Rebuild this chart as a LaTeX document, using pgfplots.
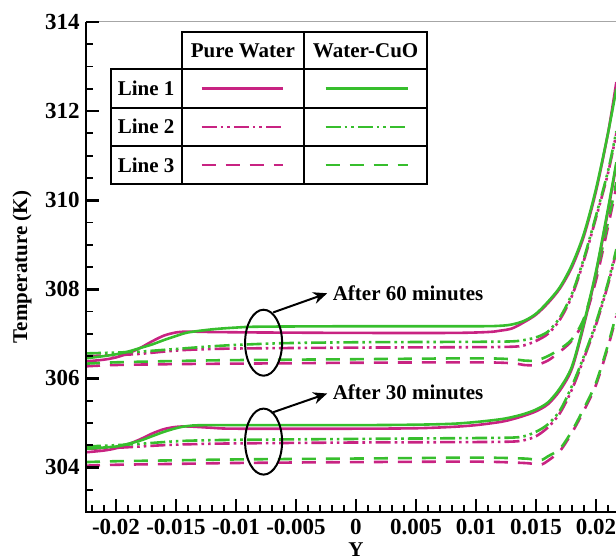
\documentclass[border=0pt]{standalone}
\usepackage{fontspec}
\setmainfont{Liberation Serif}
\usepackage{pgfplots}
\pgfplotsset{compat=1.18}
\usetikzlibrary{arrows.meta}
\definecolor{mag}{RGB}{200,35,130}
\definecolor{grn}{RGB}{55,190,45}
\tikzset{
  l1/.style={line width=1.3pt},
  l2/.style={line width=1.3pt, dash pattern=on 7.5pt off 2pt on 1.3pt off 2pt on 1.3pt off 2pt},
  l3/.style={line width=1.3pt, dash pattern=on 7pt off 5pt},
}
\newcommand{\lbl}{\fontsize{10.5}{12}\selectfont\bfseries}
\newcommand{\tl}{\fontsize{11.5}{13}\selectfont\bfseries}
\begin{document}
\begin{tikzpicture}
\begin{axis}[
  width=265pt, height=245pt, scale only axis,
  xmin=-0.0225, xmax=0.02167, ymin=303, ymax=314,
  axis line style={draw=none},
  tick style={draw=none},
  xtick={-0.02,-0.015,-0.01,-0.005,0,0.005,0.01,0.015,0.02},
  xticklabels={{\tl -0.02},{\tl -0.015},{\tl -0.01},{\tl -0.005},{\tl 0},{\tl 0.005},{\tl 0.01},{\tl 0.015},{\tl 0.02}},
  ytick={304,306,308,310,312,314},
  yticklabels={{\tl 304},{\tl 306},{\tl 308},{\tl 310},{\tl 312},{\tl 314}},
  xticklabel style={anchor=north, inner sep=0pt, yshift=-3.5pt},
  yticklabel style={anchor=east, inner sep=0pt, xshift=-3pt},
  scaled x ticks=false,
  xlabel={Y}, ylabel={Temperature (K)},
  label style={font=\lbl},
  xlabel style={at={(axis description cs:0.5094,-0.0776)}, anchor=center},
  ylabel style={at={(axis description cs:-0.1208,0.5)}, anchor=center},
]
% ---------- After 60 minutes ----------
\addplot[mag,l1,smooth] coordinates {(-0.0225,306.38)(-0.021,306.42)(-0.020,306.47)(-0.019,306.56)(-0.018,306.68)(-0.017,306.83)(-0.016,306.96)(-0.015,307.03)(-0.014,307.05)(-0.012,307.04)(-0.008,307.03)(0,307.02)(0.008,307.02)(0.011,307.04)(0.012,307.07)(0.013,307.12)(0.014,307.26)(0.015,307.43)(0.016,307.69)(0.017,308.02)(0.018,308.5)(0.019,309.2)(0.020,310.2)(0.021,311.5)(0.0217,312.65)};
\addplot[mag,l2,smooth] coordinates {(-0.0225,306.5)(-0.020,306.52)(-0.018,306.55)(-0.016,306.6)(-0.014,306.64)(-0.010,306.67)(0,306.69)(0.010,306.7)(0.013,306.71)(0.014,306.74)(0.015,306.84)(0.016,307.0)(0.017,307.32)(0.018,307.85)(0.019,308.65)(0.020,309.6)(0.021,310.6)(0.0217,311.5)};
\addplot[mag,l3,smooth] coordinates {(-0.0225,306.27)(-0.020,306.3)(-0.015,306.32)(-0.010,306.33)(0,306.35)(0.010,306.36)(0.013,306.34)(0.014,306.3)(0.015,306.3)(0.016,306.4)(0.017,306.6)(0.018,306.85)(0.019,307.3)(0.020,308.2)(0.021,309.4)(0.0217,310.3)};
\addplot[grn,l1,smooth] coordinates {(-0.0225,306.45)(-0.021,306.5)(-0.020,306.54)(-0.019,306.6)(-0.018,306.68)(-0.017,306.76)(-0.016,306.86)(-0.015,306.95)(-0.014,307.03)(-0.012,307.1)(-0.010,307.14)(-0.008,307.16)(0,307.17)(0.010,307.17)(0.012,307.18)(0.013,307.21)(0.014,307.29)(0.015,307.45)(0.016,307.72)(0.017,308.05)(0.018,308.55)(0.019,309.25)(0.020,310.25)(0.021,311.5)(0.0217,312.5)};
\addplot[grn,l2,smooth] coordinates {(-0.0225,306.56)(-0.020,306.58)(-0.018,306.6)(-0.016,306.64)(-0.014,306.68)(-0.012,306.72)(-0.010,306.75)(-0.006,306.79)(0,306.81)(0.010,306.82)(0.013,306.83)(0.014,306.86)(0.015,306.92)(0.016,307.05)(0.017,307.37)(0.018,307.9)(0.019,308.7)(0.020,309.65)(0.021,310.65)(0.0217,311.55)};
\addplot[grn,l3,smooth] coordinates {(-0.0225,306.33)(-0.020,306.36)(-0.015,306.39)(-0.010,306.41)(0,306.43)(0.010,306.45)(0.013,306.43)(0.014,306.4)(0.015,306.4)(0.016,306.5)(0.017,306.66)(0.018,306.88)(0.019,307.35)(0.020,308.3)(0.021,309.5)(0.0217,310.4)};
% ---------- After 30 minutes ----------
\addplot[mag,l1,smooth] coordinates {(-0.0225,304.34)(-0.021,304.38)(-0.020,304.43)(-0.019,304.52)(-0.018,304.63)(-0.017,304.76)(-0.016,304.86)(-0.015,304.91)(-0.014,304.92)(-0.012,304.89)(-0.010,304.87)(0,304.87)(0.005,304.88)(0.008,304.91)(0.010,304.95)(0.012,305.02)(0.013,305.08)(0.014,305.16)(0.015,305.26)(0.016,305.42)(0.017,305.73)(0.018,306.22)(0.019,307.2)(0.020,308.35)(0.021,309.75)(0.0217,310.8)};
\addplot[mag,l2,smooth] coordinates {(-0.0225,304.42)(-0.020,304.44)(-0.018,304.47)(-0.016,304.5)(-0.014,304.52)(-0.010,304.54)(0,304.56)(0.010,304.57)(0.013,304.58)(0.014,304.61)(0.015,304.7)(0.016,304.9)(0.017,305.22)(0.018,305.75)(0.019,306.45)(0.020,307.2)(0.021,308.1)(0.0217,308.85)};
\addplot[mag,l3,smooth] coordinates {(-0.0225,304.04)(-0.020,304.06)(-0.015,304.08)(-0.010,304.1)(0,304.12)(0.010,304.13)(0.014,304.1)(0.015,304.07)(0.0155,304.07)(0.016,304.15)(0.017,304.37)(0.018,304.78)(0.019,305.28)(0.020,305.85)(0.021,306.7)(0.0217,307.4)};
\addplot[grn,l1,smooth] coordinates {(-0.0225,304.42)(-0.020,304.47)(-0.019,304.53)(-0.018,304.6)(-0.017,304.7)(-0.016,304.8)(-0.015,304.88)(-0.014,304.93)(-0.012,304.95)(0,304.95)(0.005,304.96)(0.008,304.98)(0.010,305.02)(0.012,305.08)(0.013,305.13)(0.014,305.2)(0.015,305.3)(0.016,305.46)(0.017,305.78)(0.018,306.27)(0.019,307.25)(0.020,308.4)(0.021,309.8)(0.0217,310.85)};
\addplot[grn,l2,smooth] coordinates {(-0.0225,304.47)(-0.020,304.5)(-0.018,304.53)(-0.016,304.57)(-0.014,304.6)(-0.010,304.62)(0,304.64)(0.010,304.66)(0.013,304.67)(0.014,304.7)(0.015,304.8)(0.016,304.97)(0.017,305.28)(0.018,305.83)(0.019,306.5)(0.020,307.25)(0.021,308.15)(0.0217,308.9)};
\addplot[grn,l3,smooth] coordinates {(-0.0225,304.12)(-0.020,304.14)(-0.015,304.16)(-0.010,304.18)(0,304.2)(0.010,304.22)(0.014,304.2)(0.015,304.17)(0.0155,304.17)(0.016,304.25)(0.017,304.42)(0.018,304.82)(0.019,305.33)(0.020,305.9)(0.021,306.75)(0.0217,307.45)};
% ---------- annotations ----------
\draw[line width=1pt] (axis cs:-0.0077,306.8) ellipse [x radius=9.25pt, y radius=16.5pt];
\draw[line width=1pt] (axis cs:-0.0077,304.58) ellipse [x radius=9.25pt, y radius=16.5pt];
\draw[line width=1pt,-{Stealth[length=7pt,width=6pt]}] (axis cs:-0.0069,307.48) -- (axis cs:-0.0024,307.91);
\draw[line width=1pt,-{Stealth[length=7pt,width=6pt]}] (axis cs:-0.0069,305.24) -- (axis cs:-0.0024,305.66);
\node[anchor=west,inner sep=2pt,font=\lbl] at (axis cs:-0.0023,307.91) {After 60 minutes};
\node[anchor=west,inner sep=2pt,font=\lbl] at (axis cs:-0.0023,305.68) {After 30 minutes};
% ---------- legend table ----------
\draw[line width=1pt] (axis cs:-0.014525,313.769) rectangle (axis cs:0.005942,312.937);
\draw[line width=1pt] (axis cs:-0.02044,312.937) rectangle (axis cs:0.005942,310.353);
\draw[line width=1pt] (axis cs:-0.014525,312.937) -- (axis cs:-0.014525,310.353);
\draw[line width=1pt] (axis cs:-0.004333,313.769) -- (axis cs:-0.004333,310.353);
\draw[line width=1pt] (axis cs:-0.02044,312.074) -- (axis cs:0.005942,312.074);
\draw[line width=1pt] (axis cs:-0.02044,311.22) -- (axis cs:0.005942,311.22);
\node[font=\lbl] at (axis cs:-0.009429,313.353) {Pure Water};
\node[font=\lbl] at (axis cs:0.000804,313.353) {Water-CuO};
\node[font=\lbl] at (axis cs:-0.017483,312.506) {Line 1};
\node[font=\lbl] at (axis cs:-0.017483,311.647) {Line 2};
\node[font=\lbl] at (axis cs:-0.017483,310.787) {Line 3};
\draw[mag,l1] (axis cs:-0.012858,312.506) -- (axis cs:-0.006058,312.506);
\draw[mag,l2] (axis cs:-0.012858,311.647) -- (axis cs:-0.006058,311.647);
\draw[mag,l3] (axis cs:-0.012858,310.787) -- (axis cs:-0.006058,310.787);
\draw[grn,l1] (axis cs:-0.002525,312.506) -- (axis cs:0.004358,312.506);
\draw[grn,l2] (axis cs:-0.002525,311.647) -- (axis cs:0.004358,311.647);
\draw[grn,l3] (axis cs:-0.002525,310.787) -- (axis cs:0.004358,310.787);
\end{axis}
% axis frame and tick marks
\draw[gray!70,line width=0.5pt] (current axis.north west) -- (current axis.north east);
\foreach \o in {3,9,...,261} \draw[line width=0.9pt] ([xshift=\o pt]current axis.south west) -- ++(0,3.5pt);
\foreach \o in {15,45,...,255} \draw[line width=1.4pt] ([xshift=\o pt]current axis.south west) -- ++(0,6.5pt);
\foreach \k in {1,...,21} \draw[line width=0.9pt] ([yshift={11.13636pt*\k}]current axis.south west) -- ++(3.5pt,0);
\foreach \k in {2,6,10,14,18,22} \draw[line width=1.4pt] ([yshift={11.13636pt*\k}]current axis.south west) -- ++(6.5pt,0);
\draw[line width=1.3pt] (current axis.north west) -- (current axis.south west) -- (current axis.south east);
\pgfresetboundingbox
\path[use as bounding box] ([shift={(-43pt,-24pt)}]current axis.south west) rectangle ([shift={(0pt,11pt)}]current axis.north east);
\end{tikzpicture}
\end{document}
